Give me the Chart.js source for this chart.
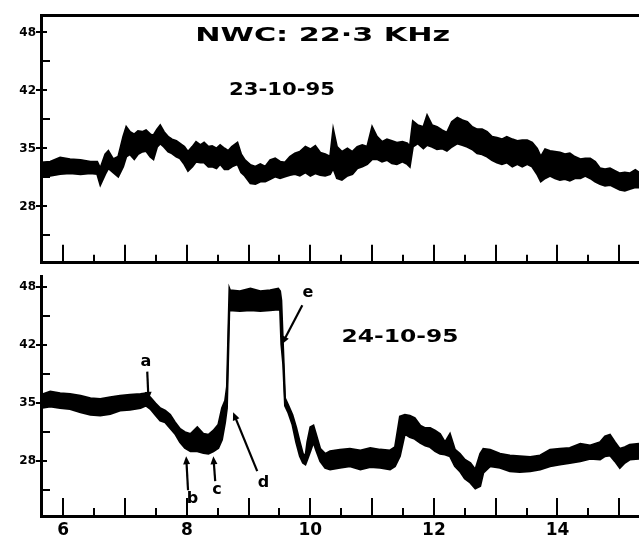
<!DOCTYPE html>
<html>
<head>
<meta charset="utf-8">
<title>NWC 22.3 kHz</title>
<script src="https://cdn.jsdelivr.net/npm/chart.js@4.4.0/dist/chart.umd.min.js"></script>
<style>
    html, body { margin: 0; padding: 0; background: #fff; overflow: hidden; }
    .wrap { position: relative; width: 639px; height: 539px; }
    .wrap canvas { position: absolute; left: 0; }
    #chart23 { top: 0; }
    #chart24 { top: 269px; }
</style>
</head>
<body>
<div class="wrap">
    <canvas id="chart23" width="639" height="270"></canvas>
    <canvas id="chart24" width="639" height="270"></canvas>
</div>
<script>
// ==========================================
// Data (hours UT, signal amplitude band: upper / lower edge)
// ==========================================
const xLabelHours = [6, 8, 10, 12, 14];
const yTickValues = [28, 35, 42, 49];
const yTickLabels = ['28', '35', '42', '48'];

// 23-10-95
const hours23 = [5.64, 5.79, 5.95, 6.11, 6.28, 6.44, 6.55, 6.60, 6.68, 6.73,
    6.81, 6.89, 6.97, 7.02, 7.08, 7.15, 7.21, 7.28, 7.34, 7.41,
    7.46, 7.52, 7.57, 7.63, 7.70, 7.76, 7.83, 7.89, 7.96, 8.02,
    8.09, 8.15, 8.22, 8.28, 8.35, 8.41, 8.48, 8.54, 8.61, 8.67,
    8.73, 8.82, 8.88, 8.94, 9.03, 9.11, 9.19, 9.27, 9.35, 9.43,
    9.51, 9.59, 9.67, 9.75, 9.83, 9.92, 10.00, 10.08, 10.16, 10.24,
    10.32, 10.37, 10.43, 10.51, 10.60, 10.68, 10.76, 10.84, 10.92, 11.00,
    11.08, 11.16, 11.24, 11.32, 11.40, 11.49, 11.57, 11.61, 11.66, 11.74,
    11.83, 11.89, 11.97, 12.05, 12.13, 12.21, 12.29, 12.38, 12.46, 12.54,
    12.62, 12.70, 12.78, 12.86, 12.94, 13.02, 13.10, 13.18, 13.27, 13.35,
    13.43, 13.51, 13.59, 13.67, 13.73, 13.80, 13.88, 13.96, 14.04, 14.12,
    14.20, 14.28, 14.37, 14.45, 14.53, 14.61, 14.69, 14.77, 14.85, 14.93,
    15.01, 15.09, 15.17, 15.26, 15.32];
const upper23 = [33.3, 33.4, 33.9, 33.7, 33.6, 33.4, 33.4, 32.6, 34.3, 34.7,
    33.7, 34.0, 36.4, 37.6, 37.0, 36.7, 37.1, 37.0, 37.2, 36.7,
    36.6, 37.3, 37.8, 37.0, 36.4, 36.1, 35.9, 35.6, 35.2, 34.6,
    35.2, 35.8, 35.4, 35.7, 35.2, 35.3, 35.0, 35.4, 35.0, 34.7,
    35.2, 35.7, 34.3, 33.6, 33.0, 32.8, 33.1, 32.8, 33.6, 33.8,
    33.4, 33.3, 34.0, 34.4, 34.6, 35.2, 34.9, 35.3, 34.5, 34.3,
    34.0, 37.3, 35.2, 34.6, 35.0, 34.6, 35.2, 35.4, 35.2, 37.6,
    36.4, 35.8, 36.1, 35.9, 35.7, 35.8, 35.6, 35.2, 38.3, 37.8,
    37.6, 39.0, 37.8, 37.6, 37.2, 36.9, 38.2, 38.7, 38.4, 38.2,
    37.6, 37.3, 37.3, 37.0, 36.4, 36.3, 36.1, 36.4, 36.1, 35.9,
    36.0, 36.0, 35.7, 35.0, 34.0, 34.9, 34.7, 34.6, 34.5, 34.3,
    34.4, 34.0, 33.7, 33.8, 33.8, 33.4, 32.6, 32.5, 32.6, 32.3,
    32.0, 32.1, 32.0, 32.4, 32.1];
const lower23 = [31.7, 31.7, 31.9, 32.0, 31.9, 32.0, 31.9, 30.6, 31.9, 32.6,
    32.1, 31.6, 32.8, 34.0, 34.3, 33.7, 34.3, 34.6, 34.7, 34.0,
    33.7, 35.2, 35.6, 35.2, 34.6, 34.4, 34.0, 33.8, 33.1, 32.3,
    32.8, 33.4, 33.3, 33.3, 32.8, 32.8, 32.6, 33.1, 32.5, 32.5,
    32.8, 33.1, 32.1, 31.7, 30.8, 30.7, 31.0, 31.0, 31.3, 31.6,
    31.4, 31.6, 31.8, 31.9, 31.7, 32.1, 31.7, 32.0, 31.8, 31.7,
    31.9, 32.6, 31.4, 31.2, 31.7, 31.9, 32.6, 32.8, 33.1, 33.7,
    33.7, 33.4, 33.6, 33.2, 33.1, 33.4, 33.1, 32.8, 35.2, 35.6,
    35.0, 35.4, 35.2, 34.9, 35.0, 34.7, 35.2, 35.6, 35.4, 35.2,
    34.9, 34.4, 34.3, 34.0, 33.6, 33.3, 33.1, 33.3, 32.8, 33.1,
    32.8, 33.1, 32.8, 31.9, 31.0, 31.4, 31.7, 31.4, 31.2, 31.3,
    31.1, 31.4, 31.4, 31.7, 31.4, 31.0, 30.7, 30.5, 30.6, 30.3,
    30.0, 29.9, 30.1, 30.3, 30.3];

// 24-10-95
const hours24 = [5.64, 5.79, 5.95, 6.11, 6.28, 6.44, 6.60, 6.76, 6.92, 7.08,
    7.25, 7.34, 7.41, 7.49, 7.57, 7.65, 7.73, 7.81, 7.89, 7.97,
    8.06, 8.17, 8.27, 8.35, 8.43, 8.51, 8.57, 8.62, 8.65, 8.69,
    8.70, 8.86, 9.03, 9.19, 9.35, 9.48, 9.51, 9.53, 9.56, 9.59,
    9.64, 9.71, 9.77, 9.83, 9.88, 9.92, 9.95, 10.00, 10.05, 10.09,
    10.16, 10.24, 10.32, 10.48, 10.64, 10.81, 10.97, 11.13, 11.29, 11.37,
    11.45, 11.53, 11.61, 11.69, 11.78, 11.86, 11.94, 12.02, 12.10, 12.18,
    12.26, 12.34, 12.42, 12.50, 12.59, 12.67, 12.75, 12.80, 12.91, 13.07,
    13.23, 13.39, 13.56, 13.72, 13.88, 14.04, 14.20, 14.37, 14.53, 14.69,
    14.77, 14.85, 14.93, 15.01, 15.09, 15.17, 15.32];
const upper24 = [36.0, 36.4, 36.2, 36.1, 35.9, 35.6, 35.5, 35.7, 35.9, 36.0,
    36.1, 36.2, 35.7, 35.0, 34.4, 34.1, 33.6, 32.7, 31.9, 31.5,
    31.3, 32.1, 31.3, 31.2, 31.7, 32.4, 34.4, 35.3, 37.0, 48.8,
    48.6, 48.5, 48.8, 48.5, 48.6, 48.8, 48.5, 47.4, 41.5, 35.6,
    34.8, 33.6, 32.1, 30.3, 28.9, 28.6, 30.3, 32.1, 32.3, 31.3,
    29.5, 28.9, 29.2, 29.4, 29.5, 29.3, 29.6, 29.4, 29.3, 29.7,
    33.4, 33.6, 33.5, 33.2, 32.3, 32.0, 32.0, 31.7, 31.3, 30.3,
    31.3, 29.4, 28.9, 28.2, 27.8, 27.0, 28.9, 29.5, 29.4, 28.9,
    28.7, 28.6, 28.5, 28.7, 29.4, 29.5, 29.6, 30.1, 29.9, 30.3,
    31.0, 31.2, 30.3, 29.5, 29.7, 30.0, 30.1];
const lower24 = [34.4, 34.6, 34.4, 34.3, 33.9, 33.6, 33.5, 33.7, 34.1, 34.2,
    34.4, 34.7, 34.3, 33.6, 32.9, 32.7, 32.0, 31.3, 30.3, 29.6,
    29.2, 29.2, 29.0, 28.9, 29.2, 29.6, 30.6, 32.7, 34.4, 46.8,
    46.2, 46.1, 46.2, 46.1, 46.2, 46.3, 46.2, 42.1, 39.7, 34.7,
    33.9, 32.4, 30.3, 28.6, 27.8, 27.6, 28.2, 29.2, 30.3, 29.4,
    28.0, 27.2, 27.0, 27.2, 27.4, 27.0, 27.3, 27.2, 27.0, 27.4,
    28.6, 31.3, 30.9, 30.7, 30.2, 29.9, 29.7, 29.2, 28.9, 28.8,
    28.6, 27.4, 26.8, 25.9, 25.4, 24.7, 25.0, 26.6, 27.4, 27.2,
    26.8, 26.7, 26.8, 27.0, 27.4, 27.6, 27.8, 28.0, 28.3, 28.2,
    28.6, 28.7, 28.0, 27.2, 27.8, 28.2, 28.3];

// ==========================================
// Shared styling
// ==========================================
const FONT = '"DejaVu Sans", "Liberation Sans", sans-serif';
const INK = '#000';

function toPoints(xs, ys) {
    return xs.map((x, i) => ({ x: x, y: ys[i] }));
}

// chart-recorder style ticks: grid lines dashed so only a stub rising
// from the bottom axis into the plot is left
function xGrid() {
    return {
        display: true,
        drawOnChartArea: true,
        drawTicks: false,
        color: INK,
        lineWidth: 2
    };
}

function xDash(ctx) {
    const area = ctx.chart.chartArea;
    if (!area || !ctx.tick) return [];
    const len = Number.isInteger(ctx.tick.value) ? 18 : 8;
    return [0, area.bottom - area.top - len, len + 2, 10000];
}

function yDash(ctx) {
    if (!ctx.tick) return [];
    return [yTickValues.includes(ctx.tick.value) ? 4 : 7, 10000];
}

function yAxis(min, max) {
    return {
        min: min,
        max: max,
        afterFit: function(scale) { scale.width = 41; },
        border: { display: true, color: INK, width: 3, dash: yDash },
        grid: {
            display: true,
            drawOnChartArea: true,
            drawTicks: true,
            tickLength: 5,
            tickWidth: 2,
            lineWidth: 2,
            color: INK,
            tickBorderDash: [],
            tickColor: function(ctx) {
                return ctx.tick && yTickValues.includes(ctx.tick.value) ? INK : 'rgba(0,0,0,0)';
            }
        },
        ticks: {
            stepSize: 3.5,
            includeBounds: false,
            autoSkip: false,
            padding: 0,
            color: INK,
            font: { family: FONT, size: 12, weight: 'bold' },
            callback: function(value) {
                const i = yTickValues.indexOf(value);
                return i < 0 ? '' : yTickLabels[i];
            }
        }
    };
}

function xAxis(showLabels) {
    return {
        type: 'linear',
        min: 5.64,
        max: 15.32,
        afterFit: function(scale) { scale.height = showLabels ? 23 : 0; },
        border: { display: true, color: INK, width: 3, dash: xDash },
        grid: xGrid(),
        ticks: {
            display: showLabels,
            stepSize: 0.5,
            includeBounds: false,
            autoSkip: false,
            maxRotation: 0,
            padding: 4,
            color: INK,
            font: { family: FONT, size: 17, weight: 'bold' },
            callback: function(value) {
                return xLabelHours.includes(value) ? String(value) : '';
            }
        }
    };
}

// ==========================================
// Hand-lettered notes and arrows
// ==========================================
function drawLetters(ctx, text, x, y, size, width) {
    ctx.save();
    ctx.font = 'bold ' + size + 'px ' + FONT;
    ctx.textAlign = 'center';
    ctx.textBaseline = 'middle';
    ctx.translate(x, y);
    if (width) {
        const w = ctx.measureText(text).width;
        ctx.scale(width / w, 1);
    }
    ctx.fillText(text, 0, 0);
    ctx.restore();
}

function drawArrow(ctx, x1, y1, x2, y2) {
    const ang = Math.atan2(y2 - y1, x2 - x1);
    const head = 8, half = 3.5;
    ctx.beginPath();
    ctx.moveTo(x1, y1);
    ctx.lineTo(x2 - Math.cos(ang) * head * 0.8, y2 - Math.sin(ang) * head * 0.8);
    ctx.lineWidth = 2.2;
    ctx.stroke();
    ctx.beginPath();
    ctx.moveTo(x2, y2);
    ctx.lineTo(x2 - Math.cos(ang) * head - Math.sin(ang) * half, y2 - Math.sin(ang) * head + Math.cos(ang) * half);
    ctx.lineTo(x2 - Math.cos(ang) * head + Math.sin(ang) * half, y2 - Math.sin(ang) * head - Math.cos(ang) * half);
    ctx.closePath();
    ctx.fill();
}

function notesPlugin(texts, arrows) {
    return {
        id: 'notes',
        afterDatasetsDraw: function(chart) {
            const ctx = chart.ctx;
            const xs = chart.scales.x;
            const ys = chart.scales.y;
            ctx.save();
            ctx.fillStyle = INK;
            ctx.strokeStyle = INK;
            texts.forEach(t => {
                drawLetters(ctx, t.text, xs.getPixelForValue(t.x), ys.getPixelForValue(t.y), t.size, t.width);
            });
            arrows.forEach(a => {
                drawArrow(ctx,
                    xs.getPixelForValue(a.from[0]), ys.getPixelForValue(a.from[1]),
                    xs.getPixelForValue(a.to[0]), ys.getPixelForValue(a.to[1]));
            });
            ctx.restore();
        }
    };
}

// ==========================================
// Panels
// ==========================================
function makePanel(id, hours, upper, lower, yRange, isBottom, texts, arrows) {
    const scales = {
        x: xAxis(isBottom),
        y: yAxis(yRange[0], yRange[1])
    };
    if (!isBottom) {
        scales.xTop = {
            type: 'linear',
            position: 'top',
            min: 5.64,
            max: 15.32,
            afterFit: function(scale) { scale.height = 0; },
            border: { display: true, color: INK, width: 3 },
            grid: { display: false, drawTicks: false },
            ticks: { display: false }
        };
    }

    return new Chart(document.getElementById(id), {
        type: 'line',
        data: {
            datasets: [
                {
                    label: 'upper',
                    data: toPoints(hours, upper),
                    xAxisID: 'x',
                    yAxisID: 'y',
                    borderColor: INK,
                    borderWidth: 2,
                    pointRadius: 0,
                    tension: 0,
                    fill: false
                },
                {
                    label: 'lower',
                    data: toPoints(hours, lower),
                    xAxisID: 'x',
                    yAxisID: 'y',
                    borderColor: INK,
                    borderWidth: 2,
                    backgroundColor: INK,
                    pointRadius: 0,
                    tension: 0,
                    fill: '-1'
                }
            ]
        },
        options: {
            responsive: false,
            animation: false,
            devicePixelRatio: 1,
            layout: {
                padding: isBottom ? { top: 1, right: 0, bottom: 0, left: 0 }
                                  : { top: 15, right: 0, bottom: 1, left: 0 }
            },
            plugins: {
                legend: { display: false },
                tooltip: { enabled: false }
            },
            scales: scales
        },
        plugins: [notesPlugin(texts, arrows)]
    });
}

makePanel('chart23', hours23, upper23, lower23, [21.2, 51.1], false, [
    { text: 'NWC: 22\u00b73 KHz', x: 10.20, y: 48.6, size: 20, width: 255 },
    { text: '23-10-95', x: 9.54, y: 42.0, size: 17, width: 106 }
], []);

makePanel('chart24', hours24, upper24, lower24, [21.4, 50.3], true, [
    { text: '24-10-95', x: 11.45, y: 42.9, size: 17, width: 117 },
    { text: 'a', x: 7.34, y: 40.0, size: 16 },
    { text: 'b', x: 8.09, y: 23.5, size: 16 },
    { text: 'c', x: 8.49, y: 24.6, size: 16 },
    { text: 'd', x: 9.24, y: 25.4, size: 16 },
    { text: 'e', x: 9.96, y: 48.3, size: 16 }
], [
    { from: [7.36, 38.8], to: [7.38, 35.4] },
    { from: [8.02, 24.5], to: [7.99, 28.6] },
    { from: [8.46, 25.6], to: [8.43, 28.6] },
    { from: [9.14, 26.8], to: [8.75, 33.9] },
    { from: [9.87, 46.8], to: [9.54, 42.1] }
]);
</script>
</body>
</html>
